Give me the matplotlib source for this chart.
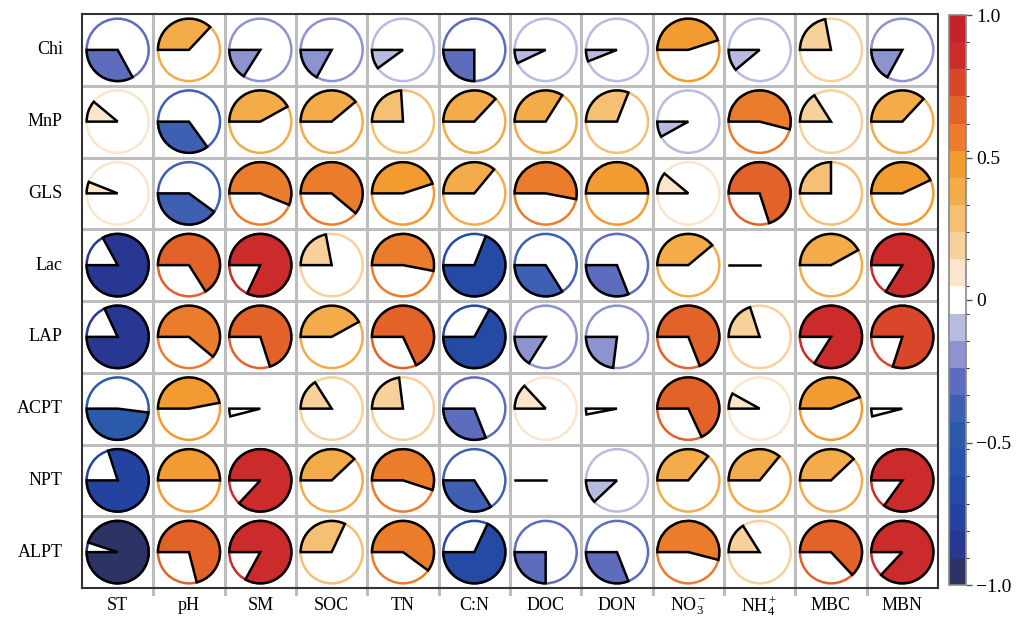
import matplotlib
matplotlib.use("Agg")
import matplotlib.pyplot as plt
import numpy as np
from matplotlib.patches import Wedge, Circle
from matplotlib.colors import ListedColormap, BoundaryNorm
from matplotlib.cm import ScalarMappable

plt.rcParams['font.family'] = ['Liberation Serif', 'DejaVu Serif']
plt.rcParams['mathtext.fontset'] = 'custom'
plt.rcParams['mathtext.rm'] = 'Liberation Serif'
plt.rcParams['mathtext.it'] = 'Liberation Serif:italic'

# enzymes (rows) vs soil properties (columns)
row_names = ['Chi', 'MnP', 'GLS', 'Lac', 'LAP', 'ACPT', 'NPT', 'ALPT']
col_names = ['ST', 'pH', 'SM', 'SOC', 'TN', 'C:N', 'DOC', 'DON',
             r'NO$_3^-$', r'NH$_4^+$', 'MBC', 'MBN']

chi  = [-0.33, 0.37, -0.16, -0.17, -0.10, -0.25, -0.07, -0.06, 0.45, -0.11, 0.22, -0.17]
mnp  = [0.11, -0.35, 0.42, 0.39, 0.24, 0.37, 0.34, 0.31, -0.08, 0.54, 0.16, 0.37]
gls  = [0.06, -0.40, 0.56, 0.61, 0.45, 0.36, 0.53, 0.50, 0.11, 0.70, 0.25, 0.43]
lac  = [-0.83, 0.66, 0.82, 0.22, 0.53, -0.69, -0.34, -0.31, 0.39, 0.00, 0.42, 0.84]
lap  = [-0.82, 0.61, 0.70, 0.42, 0.68, -0.67, -0.16, -0.23, 0.69, 0.20, 0.84, 0.80]
acpt = [-0.48, 0.47, -0.04, 0.16, 0.23, -0.31, 0.13, -0.03, 0.68, 0.08, 0.44, -0.04]
npt  = [-0.80, 0.50, 0.87, 0.38, 0.55, -0.34, 0.00, -0.12, 0.36, 0.36, 0.38, 0.85]
alpt = [-0.95, 0.71, 0.83, 0.32, 0.60, -0.68, -0.25, -0.31, 0.54, 0.16, 0.63, 0.87]

corr = np.array([chi, mnp, gls, lac, lap, acpt, npt, alpt])

# 21-step diverging palette, navy -> white -> red
pal = ['#2e3366', '#283892', '#2442a0', '#244aa5', '#2853a8', '#2c5aab',
       '#3e5fb2', '#5d6cbd', '#8d93cf', '#b8bbe0', '#ffffff',
       '#fbe6cc', '#f7d19b', '#f5bf74', '#f4ab4a', '#f29b30',
       '#ea7c2c', '#e2622a', '#d8472a', '#cc2b2b', '#c3242a']
cmap = ListedColormap(pal)
norm = BoundaryNorm(np.linspace(-1, 1, len(pal) + 1), cmap.N)

fig = plt.figure(figsize=(10.24, 6.2), dpi=100)
W, H = 1024, 620
ax = fig.add_axes([82 / W, 1 - 588 / H, 856 / W, 574 / H])
nr, nc = corr.shape
ax.set_xlim(0, nc)
ax.set_ylim(0, nr)
ax.set_xticks([])
ax.set_yticks([])
for s in ax.spines.values():
    s.set_color('#333333')
    s.set_linewidth(1.5)
    s.set_zorder(5)

# cell grid
for k in range(1, nc):
    ax.plot([k, k], [-0.08, nr], color='#bdbdbd', lw=2.2, clip_on=False, zorder=1)
for k in range(1, nr):
    ax.plot([0, nc], [k, k], color='#bdbdbd', lw=2.2, zorder=1)

R = 0.435
for i in range(nr):
    for j in range(nc):
        v = corr[i, j]
        cx, cy = j + 0.5, nr - i - 0.5
        col = cmap(norm(v))
        ax.add_patch(Circle((cx, cy), R, facecolor='white', edgecolor=col,
                            lw=1.8, zorder=2))
        if abs(v) < 0.005:
            ax.plot([cx - R, cx], [cy, cy], color='black', lw=1.8, zorder=3)
            continue
        if v > 0:
            t1, t2 = 180 - 360 * v, 180
        else:
            t1, t2 = 180, 180 - 360 * v
        ax.add_patch(Wedge((cx, cy), R, t1, t2, facecolor=col,
                           edgecolor='black', lw=1.8, zorder=3))

for i, name in enumerate(row_names):
    ax.text(-0.27, nr - i - 0.5, name, ha='right', va='center', fontsize=13)
for j, name in enumerate(col_names):
    ax.text(j + 0.5, -0.25, name, ha='center', va='center', fontsize=13)

# colour key
cax = fig.add_axes([949 / W, 1 - 585 / H, 17 / W, 570 / H])
cb = fig.colorbar(ScalarMappable(norm=norm, cmap=cmap), cax=cax,
                  ticks=[-1, -0.5, 0, 0.5, 1])
cb.ax.set_yticklabels(['\u22121.0', '\u22120.5', '0', '0.5', '1.0'])
cb.ax.tick_params(labelsize=14, length=4, width=1, color='#555555')
cb.outline.set_edgecolor('#888888')
cb.outline.set_linewidth(1.2)

fig.savefig('out.png', dpi=100)
